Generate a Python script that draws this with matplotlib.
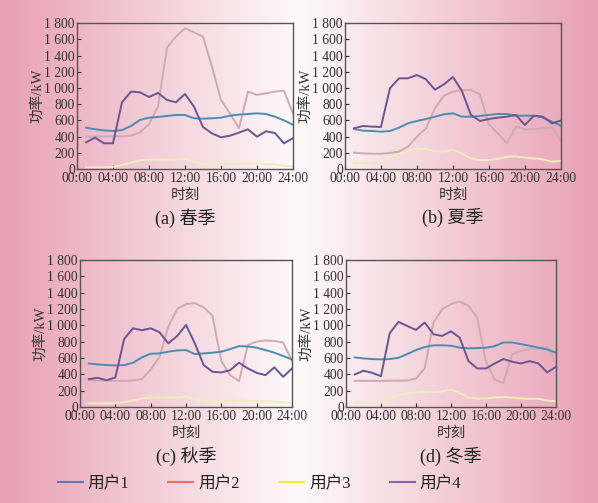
import numpy as np
import matplotlib
matplotlib.use('Agg')
import matplotlib.pyplot as plt
from matplotlib.lines import Line2D
from matplotlib.ticker import FuncFormatter

plt.rcParams['font.family'] = ['Liberation Serif', 'Noto Sans CJK SC']

hours = list(range(1, 25))

# spring
a_u1 = [510, 490, 477, 469, 481, 531, 605, 634, 642, 654, 667, 667, 626, 621, 626, 634, 658, 671, 679, 687, 679, 646, 601, 547]
a_u2 = [399, 403, 403, 403, 403, 411, 453, 551, 770, 1498, 1634, 1737, 1687, 1634, 1263, 852, 687, 502, 955, 914, 934, 955, 967, 687]
a_u3 = [20, 20, 20, 25, 50, 80, 105, 115, 120, 115, 115, 130, 90, 60, 55, 55, 60, 65, 65, 65, 60, 55, 40, 30]
a_u4 = [329, 387, 317, 317, 823, 955, 946, 889, 938, 852, 823, 926, 770, 519, 440, 391, 411, 449, 490, 399, 465, 444, 317, 379]

# summer
b_u1 = [494, 473, 469, 461, 469, 510, 564, 593, 617, 646, 675, 687, 646, 646, 654, 667, 679, 679, 658, 658, 658, 634, 584, 535]
b_u2 = [202, 193, 189, 189, 198, 214, 276, 399, 502, 749, 905, 955, 975, 975, 922, 551, 440, 317, 523, 490, 490, 502, 514, 346]
b_u3 = [70, 75, 70, 65, 150, 180, 230, 255, 245, 220, 215, 240, 190, 130, 110, 110, 125, 150, 155, 140, 130, 120, 90, 100]
b_u4 = [502, 531, 523, 519, 996, 1119, 1119, 1160, 1107, 979, 1045, 1136, 963, 667, 593, 617, 634, 646, 667, 543, 658, 646, 564, 597]

# autumn
c_u1 = [533, 521, 513, 509, 513, 541, 607, 652, 656, 677, 693, 697, 648, 656, 665, 677, 709, 745, 741, 726, 697, 665, 624, 583]
c_u2 = [328, 324, 320, 320, 320, 324, 340, 459, 615, 985, 1200, 1260, 1272, 1220, 1118, 562, 390, 316, 759, 800, 815, 808, 790, 562]
c_u3 = [45, 45, 45, 45, 60, 80, 105, 115, 115, 115, 115, 125, 100, 75, 70, 70, 75, 80, 75, 70, 70, 65, 55, 50]
c_u4 = [341, 357, 328, 361, 833, 964, 940, 964, 915, 779, 870, 1005, 779, 513, 431, 423, 451, 542, 472, 418, 390, 485, 369, 472]

# winter
d_u1 = [607, 595, 587, 583, 587, 603, 648, 697, 734, 755, 755, 750, 726, 718, 722, 726, 745, 790, 790, 770, 750, 726, 705, 665]
d_u2 = [320, 320, 320, 320, 322, 322, 324, 349, 472, 1034, 1198, 1260, 1292, 1239, 1095, 554, 336, 295, 644, 685, 710, 718, 738, 545]
d_u3 = [60, 55, 55, 55, 100, 140, 170, 175, 185, 185, 190, 215, 170, 115, 105, 105, 115, 120, 115, 105, 100, 100, 80, 70]
d_u4 = [398, 444, 418, 377, 903, 1042, 992, 944, 1034, 890, 870, 927, 849, 562, 472, 472, 533, 587, 554, 533, 562, 533, 423, 492]

titles = ['(a) 春季', '(b) 夏季', '(c) 秋季', '(d) 冬季']
users = ['用户1', '用户2', '用户3', '用户4']
xticks = [0, 4, 8, 12, 16, 20, 24]
xticklabels = ['00:00', '04:00', '08:00', '12:00', '16:00', '20:00', '24:00']

line_colors = ['#4a8db2', '#cfaab3', '#f2ecbc', '#6a5690']
legend_colors = ['#5b7db5', '#f06e5a', '#f5ea3c', '#9060b0']

fig = plt.figure(figsize=(5.98, 5.03), dpi=100)

# pink-white-pink background
bg = fig.add_axes([0, 0, 1, 1], zorder=-10)
t = np.abs(np.linspace(-1, 1, 600))
pink = np.array([232, 160, 181]) / 255
white = np.array([254, 250, 251]) / 255
row = white[None, :] * (1 - t[:, None]) + pink[None, :] * t[:, None]
bg.imshow(row[None, :, :], aspect='auto', extent=[0, 1, 0, 1])
bg.axis('off')

positions = [[0.1288, 0.664, 0.361, 0.290],
             [0.5769, 0.664, 0.361, 0.290],
             [0.1338, 0.1909, 0.3545, 0.2922],
             [0.5786, 0.1909, 0.351, 0.2922]]
data = [(a_u1, a_u2, a_u3, a_u4), (b_u1, b_u2, b_u3, b_u4),
        (c_u1, c_u2, c_u3, c_u4), (d_u1, d_u2, d_u3, d_u4)]

fmt = FuncFormatter(lambda v, p: f'{int(v):,}'.replace(',', ' '))

for pos, series, title in zip(positions, data, titles):
    ax = fig.add_axes(pos)
    ax.set_facecolor('none')
    for i in [1, 2, 0, 3]:
        ax.plot(hours, series[i], color=line_colors[i], lw=1.4)
    ax.set_xlim(0, 24)
    ax.set_ylim(0, 1800)
    ax.set_yticks(range(0, 1801, 200))
    ax.yaxis.set_major_formatter(fmt)
    ax.set_xticks(xticks)
    ax.set_xticklabels(xticklabels)
    ax.tick_params(direction='in', length=3, labelsize=9.8, colors='#333333',
                   pad=1.5, width=0.8)
    ax.tick_params(axis='x', pad=2.5)
    for s in ax.spines.values():
        s.set_color('#555555')
        s.set_linewidth(1.0)
    ax.set_ylabel('功率/kW', fontsize=10.5, labelpad=0, color='#333333')
    ax.set_xlabel('时刻', fontsize=10.5, labelpad=2, color='#333333')
    ax.text(0.5, -0.335, title, transform=ax.transAxes, ha='center', va='center',
            fontsize=13, color='#222222')

handles = [Line2D([0], [0], color=c, lw=1.5) for c in legend_colors]
fig.legend(handles, users, loc='center', bbox_to_anchor=(0.434, 1 - 484 / 503),
           ncol=4, frameon=False, fontsize=12, handlelength=1.5,
           handletextpad=0.3, columnspacing=2.35, labelcolor='#222222')

fig.savefig('out.png', dpi=100)
